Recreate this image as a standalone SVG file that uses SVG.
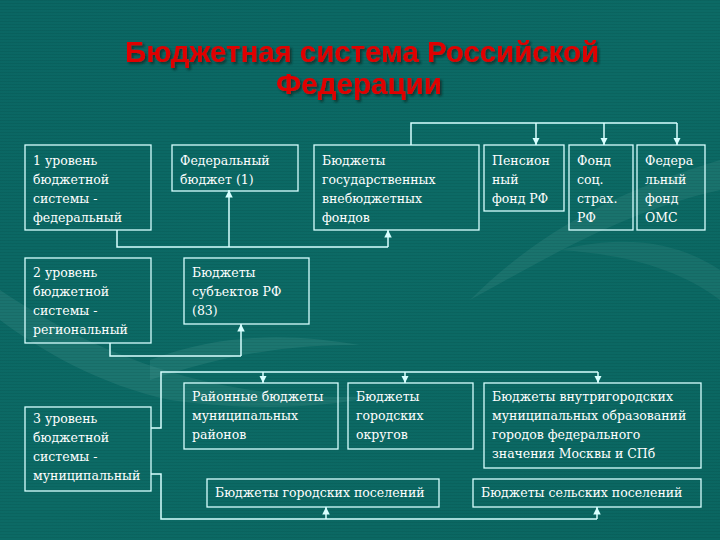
<svg xmlns="http://www.w3.org/2000/svg" width="720" height="540" viewBox="0 0 720 540">
<defs>
<linearGradient id="bg" x1="0" y1="0" x2="1" y2="1">
<stop offset="0" stop-color="#0a6663"/>
<stop offset="0.5" stop-color="#0c6a65"/>
<stop offset="1" stop-color="#0a6661"/>
</linearGradient>
<pattern id="stripes" width="4" height="3" patternUnits="userSpaceOnUse">
<rect width="4" height="1" fill="#000" opacity="0.06"/>
</pattern>
<marker id="arr" viewBox="0 0 10 10" refX="10" refY="5" markerWidth="5" markerHeight="5" orient="auto" markerUnits="strokeWidth">
<path d="M0,0 L10,5 L0,10 z" fill="#d8ffff"/>
</marker>
<filter id="sh" x="-10%" y="-20%" width="120%" height="150%">
<feDropShadow dx="2" dy="2" stdDeviation="1" flood-color="#0a2a28" flood-opacity="0.8"/>
</filter>
</defs>
<style>
.box{fill:none;stroke:#d8ffff;stroke-width:1.3}
.t{font-family:"DejaVu Serif","Liberation Serif",serif;font-size:12.5px;fill:#ffffff}
.ln{fill:none;stroke:#d8ffff;stroke-width:1.5}
.title{font-family:"Liberation Sans","DejaVu Sans",sans-serif;font-weight:bold;font-size:29.5px;fill:#e00000;text-anchor:middle}
</style>
<rect width="720" height="540" fill="url(#bg)"/>
<path d="M0,290 C60,330 120,360 200,380 C260,395 330,400 380,395 C320,410 240,410 170,400 C100,385 40,350 0,320 z" fill="#3a8a85" opacity="0.35"/>
<path d="M150,360 C230,330 300,335 360,345 C300,345 240,350 150,380 z" fill="#4a9a95" opacity="0.25"/>
<path d="M470,300 C540,230 620,190 720,160 L720,190 C630,210 560,250 470,300 z" fill="#3a8a85" opacity="0.3"/>
<path d="M560,250 C640,230 690,250 720,270 L720,300 C680,270 630,255 560,250 z" fill="#3a8a85" opacity="0.25"/>
<rect width="720" height="540" fill="url(#stripes)"/>

<g id="title" filter="url(#sh)">
<text class="title" x="362" y="62" textLength="474" lengthAdjust="spacingAndGlyphs">Бюджетная система Российской</text>
<text class="title" x="359" y="94" textLength="166" lengthAdjust="spacingAndGlyphs">Федерации</text>
</g>

<g id="connectors">
<path class="ln" d="M411,145 V123 H677"/>
<path class="ln" d="M536,123 V145" marker-end="url(#arr)"/>
<path class="ln" d="M604,123 V145" marker-end="url(#arr)"/>
<path class="ln" d="M677,123 V145" marker-end="url(#arr)"/>
<path class="ln" d="M117,230 V247 H388"/>
<path class="ln" d="M229,247 V190" marker-end="url(#arr)"/>
<path class="ln" d="M388,247 V230" marker-end="url(#arr)"/>
<path class="ln" d="M110,343 V356 H241"/>
<path class="ln" d="M241,356 V324" marker-end="url(#arr)"/>
<path class="ln" d="M151,428 H161 V372 H598"/>
<path class="ln" d="M263,372 V383" marker-end="url(#arr)"/>
<path class="ln" d="M405,372 V383" marker-end="url(#arr)"/>
<path class="ln" d="M598,372 V383" marker-end="url(#arr)"/>
<path class="ln" d="M151,474 H161 V519 H597"/>
<path class="ln" d="M326,519 V507" marker-end="url(#arr)"/>
<path class="ln" d="M597,519 V507" marker-end="url(#arr)"/>
</g>

<g id="level1">
<rect class="box" x="25" y="145" width="126" height="85"/>
<text class="t" x="33" y="165">1 уровень</text>
<text class="t" x="33" y="184">бюджетной</text>
<text class="t" x="33" y="203">системы -</text>
<text class="t" x="33" y="222">федеральный</text>
</g>
<g id="fed-budget">
<rect class="box" x="172" y="145" width="126" height="46"/>
<text class="t" x="180" y="165">Федеральный</text>
<text class="t" x="180" y="184">бюджет (1)</text>
</g>
<g id="extra-funds">
<rect class="box" x="314" y="145" width="165" height="85"/>
<text class="t" x="322" y="165">Бюджеты</text>
<text class="t" x="322" y="184">государственных</text>
<text class="t" x="322" y="203">внебюджетных</text>
<text class="t" x="322" y="222">фондов</text>
</g>
<g id="pension">
<rect class="box" x="484" y="145" width="80" height="66"/>
<text class="t" x="492" y="165">Пенсион</text>
<text class="t" x="492" y="184">ный</text>
<text class="t" x="492" y="203">фонд РФ</text>
</g>
<g id="social">
<rect class="box" x="569" y="145" width="64" height="85"/>
<text class="t" x="577" y="165">Фонд</text>
<text class="t" x="577" y="184">соц.</text>
<text class="t" x="577" y="203">страх.</text>
<text class="t" x="577" y="222">РФ</text>
</g>
<g id="oms">
<rect class="box" x="637" y="145" width="68" height="85"/>
<text class="t" x="645" y="165">Федера</text>
<text class="t" x="645" y="184">льный</text>
<text class="t" x="645" y="203">фонд</text>
<text class="t" x="645" y="222">ОМС</text>
</g>
<g id="level2">
<rect class="box" x="25" y="258" width="126" height="85"/>
<text class="t" x="33" y="277">2 уровень</text>
<text class="t" x="33" y="296">бюджетной</text>
<text class="t" x="33" y="315">системы -</text>
<text class="t" x="33" y="334">региональный</text>
</g>
<g id="subjects">
<rect class="box" x="184" y="258" width="125" height="66"/>
<text class="t" x="192" y="277">Бюджеты</text>
<text class="t" x="192" y="296">субъектов РФ</text>
<text class="t" x="192" y="315">(83)</text>
</g>
<g id="level3">
<rect class="box" x="25" y="407" width="126" height="84"/>
<text class="t" x="33" y="423">3 уровень</text>
<text class="t" x="33" y="442">бюджетной</text>
<text class="t" x="33" y="461">системы -</text>
<text class="t" x="33" y="480">муниципальный</text>
</g>
<g id="districts">
<rect class="box" x="184" y="383" width="154" height="66"/>
<text class="t" x="192" y="401">Районные бюджеты</text>
<text class="t" x="192" y="420">муниципальных</text>
<text class="t" x="192" y="439">районов</text>
</g>
<g id="city-okrug">
<rect class="box" x="348" y="383" width="125" height="66"/>
<text class="t" x="356" y="401">Бюджеты</text>
<text class="t" x="356" y="420">городских</text>
<text class="t" x="356" y="439">округов</text>
</g>
<g id="intracity">
<rect class="box" x="484" y="383" width="217" height="85"/>
<text class="t" x="492" y="401">Бюджеты внутригородских</text>
<text class="t" x="492" y="420">муниципальных образований</text>
<text class="t" x="492" y="439">городов федерального</text>
<text class="t" x="492" y="458">значения Москвы и СПб</text>
</g>
<g id="urban-settl">
<rect class="box" x="207" y="479" width="232" height="28"/>
<text class="t" x="215" y="497">Бюджеты городских поселений</text>
</g>
<g id="rural-settl">
<rect class="box" x="473" y="479" width="228" height="28"/>
<text class="t" x="481" y="497">Бюджеты сельских поселений</text>
</g>
</svg>
